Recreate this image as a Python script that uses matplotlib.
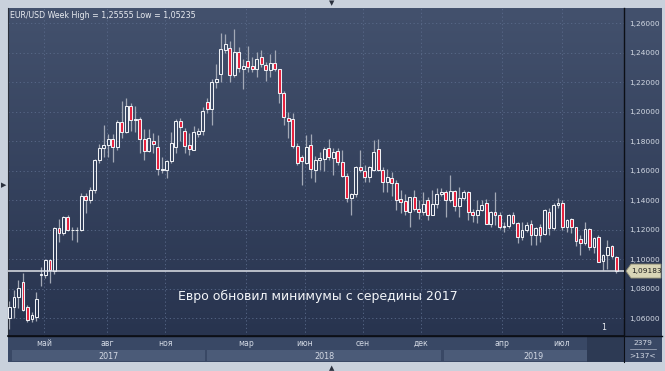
import numpy as np
import matplotlib
matplotlib.use("Agg")
import matplotlib.pyplot as plt
from matplotlib.colors import LinearSegmentedColormap
from matplotlib.patches import Polygon, Rectangle

# weekly EUR/USD candles
opens = [1.0600, 1.0675, 1.0742, 1.0844, 1.0675, 1.0595, 1.0607, 1.0890, 1.0895, 1.0993,
         1.0920, 1.1210, 1.1176, 1.1285, 1.1197, 1.1200, 1.1195, 1.1427, 1.1400, 1.1468,
         1.1671, 1.1753, 1.1773, 1.1815, 1.1760, 1.1930, 1.1860, 1.2035, 1.1944, 1.1951,
         1.1813, 1.1730, 1.1800, 1.1760, 1.1603, 1.1603, 1.1664, 1.1759, 1.1936, 1.1868,
         1.1773, 1.1739, 1.1847, 1.1868, 1.2064, 1.2017, 1.2200, 1.2254, 1.2417, 1.2431,
         1.2247, 1.2403, 1.2288, 1.2342, 1.2310, 1.2288, 1.2370, 1.2315, 1.2281, 1.2329,
         1.2288, 1.2125, 1.1956, 1.1949, 1.1766, 1.1692, 1.1651, 1.1773, 1.1603, 1.1671,
         1.1678, 1.1753, 1.1685, 1.1732, 1.1658, 1.1563, 1.1414, 1.1441, 1.1624, 1.1597,
         1.1556, 1.1603, 1.1746, 1.1603, 1.1522, 1.1549, 1.1515, 1.1407, 1.1393, 1.1318,
         1.1420, 1.1339, 1.1318, 1.1400, 1.1298, 1.1373, 1.1441, 1.1454, 1.1400, 1.1461,
         1.1359, 1.1414, 1.1454, 1.1318, 1.1298, 1.1332, 1.1380, 1.1237, 1.1319, 1.1298,
         1.1217, 1.1224, 1.1298, 1.1244, 1.1149, 1.1197, 1.1237, 1.1163, 1.1217, 1.1170,
         1.1318, 1.1210, 1.1366, 1.1380, 1.1217, 1.1271, 1.1217, 1.1136, 1.1108, 1.1203,
         1.1081, 1.1149, 1.0986, 1.1027, 1.1088, 1.1013]
highs = [1.0714, 1.0790, 1.0858, 1.0905, 1.0690, 1.0640, 1.0776, 1.0946, 1.1000, 1.1000,
         1.1215, 1.1271, 1.1295, 1.1296, 1.1220, 1.1217, 1.1445, 1.1446, 1.1490, 1.1680,
         1.1777, 1.1908, 1.1845, 1.1850, 1.1940, 1.2073, 1.2092, 1.2055, 1.2035, 1.1960,
         1.1880, 1.1881, 1.1854, 1.1841, 1.1692, 1.1671, 1.1861, 1.1949, 1.1956, 1.1888,
         1.1854, 1.1902, 1.1888, 1.2031, 1.2092, 1.2220, 1.2322, 1.2532, 1.2525, 1.2478,
         1.2559, 1.2437, 1.2356, 1.2444, 1.2370, 1.2403, 1.2417, 1.2336, 1.2390, 1.2417,
         1.2290, 1.2139, 1.1997, 1.1990, 1.1786, 1.1705, 1.1841, 1.1847, 1.1698, 1.1725,
         1.1759, 1.1814, 1.1753, 1.1753, 1.1739, 1.1583, 1.1448, 1.1631, 1.1739, 1.1637,
         1.1631, 1.1807, 1.1814, 1.1624, 1.1610, 1.1590, 1.1536, 1.1468, 1.1441, 1.1420,
         1.1468, 1.1400, 1.1454, 1.1420, 1.1468, 1.1481, 1.1481, 1.1468, 1.1570, 1.1468,
         1.1488, 1.1468, 1.1461, 1.1339, 1.1400, 1.1400, 1.1407, 1.1325, 1.1454, 1.1318,
         1.1251, 1.1305, 1.1318, 1.1251, 1.1251, 1.1251, 1.1264, 1.1217, 1.1237, 1.1339,
         1.1346, 1.1380, 1.1414, 1.1400, 1.1271, 1.1278, 1.1217, 1.1163, 1.1251, 1.1210,
         1.1149, 1.1163, 1.1034, 1.1129, 1.1095, 1.1020]
lows = [1.0524, 1.0600, 1.0670, 1.0650, 1.0575, 1.0570, 1.0580, 1.0817, 1.0870, 1.0838,
        1.0900, 1.1115, 1.1160, 1.1190, 1.1129, 1.1115, 1.1190, 1.1312, 1.1380, 1.1450,
        1.1650, 1.1692, 1.1690, 1.1658, 1.1740, 1.1820, 1.1855, 1.1868, 1.1861, 1.1719,
        1.1669, 1.1725, 1.1719, 1.1570, 1.1583, 1.1549, 1.1651, 1.1719, 1.1800, 1.1719,
        1.1705, 1.1739, 1.1827, 1.1841, 1.1990, 1.1908, 1.2159, 1.2200, 1.2397, 1.2200,
        1.2234, 1.2270, 1.2153, 1.2268, 1.2268, 1.2234, 1.2300, 1.2207, 1.2234, 1.2275,
        1.2058, 1.1908, 1.1820, 1.1753, 1.1637, 1.1502, 1.1644, 1.1549, 1.1522, 1.1603,
        1.1597, 1.1671, 1.1569, 1.1637, 1.1556, 1.1386, 1.1298, 1.1420, 1.1590, 1.1522,
        1.1522, 1.1595, 1.1595, 1.1454, 1.1454, 1.1427, 1.1332, 1.1312, 1.1298, 1.1217,
        1.1325, 1.1271, 1.1298, 1.1264, 1.1298, 1.1346, 1.1430, 1.1285, 1.1386, 1.1325,
        1.1284, 1.1400, 1.1264, 1.1251, 1.1244, 1.1325, 1.1237, 1.1220, 1.1230, 1.1203,
        1.1183, 1.1210, 1.1237, 1.1108, 1.1129, 1.1183, 1.1095, 1.1095, 1.1115, 1.1163,
        1.1163, 1.1197, 1.1346, 1.1197, 1.1183, 1.1176, 1.1088, 1.1027, 1.1095, 1.1061,
        1.1041, 1.0980, 1.0925, 1.0932, 1.1007, 1.0905]
closes = [1.0675, 1.0742, 1.0803, 1.0654, 1.0587, 1.0620, 1.0729, 1.0896, 1.0993, 1.0925,
          1.1210, 1.1176, 1.1285, 1.1197, 1.1200, 1.1195, 1.1427, 1.1400, 1.1468, 1.1671,
          1.1753, 1.1773, 1.1815, 1.1760, 1.1929, 1.1860, 1.2035, 1.1944, 1.1951, 1.1813,
          1.1730, 1.1821, 1.1780, 1.1610, 1.1608, 1.1664, 1.1786, 1.1936, 1.1895, 1.1766,
          1.1746, 1.1861, 1.1868, 1.2003, 1.2017, 1.2200, 1.2220, 1.2424, 1.2458, 1.2247,
          1.2403, 1.2295, 1.2308, 1.2302, 1.2288, 1.2356, 1.2322, 1.2281, 1.2329, 1.2288,
          1.2125, 1.1963, 1.1936, 1.1766, 1.1651, 1.1664, 1.1759, 1.1610, 1.1671, 1.1685,
          1.1746, 1.1692, 1.1725, 1.1658, 1.1563, 1.1414, 1.1441, 1.1624, 1.1603, 1.1556,
          1.1624, 1.1725, 1.1603, 1.1522, 1.1556, 1.1515, 1.1400, 1.1386, 1.1325, 1.1420,
          1.1339, 1.1318, 1.1373, 1.1298, 1.1373, 1.1441, 1.1454, 1.1400, 1.1461, 1.1359,
          1.1414, 1.1454, 1.1318, 1.1298, 1.1332, 1.1366, 1.1237, 1.1319, 1.1298, 1.1217,
          1.1224, 1.1298, 1.1244, 1.1149, 1.1197, 1.1230, 1.1163, 1.1210, 1.1163, 1.1332,
          1.1210, 1.1366, 1.1380, 1.1217, 1.1264, 1.1217, 1.1122, 1.1108, 1.1203, 1.1081,
          1.1142, 1.0980, 1.1027, 1.1081, 1.1020, 1.0918]

last_price = 1.09183
title = "EUR/USD Week High = 1,25555 Low = 1,05235"
note = "Евро обновил минимумы с середины 2017"

price_ticks = [1.06, 1.08, 1.10, 1.12, 1.14, 1.16, 1.18, 1.20, 1.22, 1.24, 1.26]
month_pos = [7.7, 21.7, 34.6, 52.6, 65.7, 78.6, 91.5, 109.5, 122.9]
month_labels = ["май", "авг", "ноя", "мар", "июн", "сен", "дек", "апр", "июл"]
year_labels = ["2017", "2018", "2019"]
year_spans = [(0.5, 43.5), (43.9, 96.0), (96.6, 136.7)]

W, H = 665, 371
XLIM = (-0.33, 136.68)
YLIM = (1.0478, 1.2702)
TXT = "#d3d9e4"


def px(x0, y0, x1, y1):
    return [x0 / W, 1 - y1 / H, (x1 - x0) / W, (y1 - y0) / H]


fig = plt.figure(figsize=(W / 100, H / 100), dpi=100, facecolor="#c9d1dc")

# gradient background behind plot and price scale
bg = fig.add_axes(px(8, 8, 662, 336))
grad = LinearSegmentedColormap.from_list("bg", ["#28344f", "#43516d"])
bg.imshow(np.linspace(0, 1, 200).reshape(-1, 1)[::-1], aspect="auto", cmap=grad,
          extent=[0, 1, 0, 1], interpolation="bilinear")
bg.set_axis_off()

ax = fig.add_axes(px(8, 8, 624, 336))
ax.set_facecolor("none")
ax.set_xlim(*XLIM)
ax.set_ylim(*YLIM)

o = np.array(opens)
h = np.array(highs)
l = np.array(lows)
c = np.array(closes)
x = np.arange(len(o))
top = np.maximum(o, c)
bot = np.minimum(o, c)
up = c >= o

for p in price_ticks:
    ax.axhline(p, color="#5a6a8a", lw=0.6, ls=(0, (1.5, 3)), zorder=1)
for m in month_pos:
    ax.axvline(m, color="#5a6a8a", lw=0.6, ls=(0, (1.5, 3)), zorder=1)

ax.vlines(x, top, h, color="#a3a9b6", lw=0.9, zorder=2)
ax.vlines(x, l, bot, color="#a3a9b6", lw=0.9, zorder=2)
ax.bar(x[up], np.maximum(top - bot, 0.0003)[up], bottom=bot[up], width=0.64,
       color="none", edgecolor="#eef0f4", linewidth=0.75, zorder=3)
ax.bar(x[~up], np.maximum(top - bot, 0.0003)[~up], bottom=bot[~up], width=0.64,
       color="#e61f3c", edgecolor="#eef0f4", linewidth=0.75, zorder=3)

ax.axhline(last_price, color="#dfe3ea", lw=1.1, zorder=4)

ax.yaxis.tick_right()
ax.set_yticks(price_ticks)
ax.set_yticklabels([f"{p:.5f}".replace(".", ",") for p in price_ticks],
                   color=TXT, fontsize=5.3)
ax.tick_params(axis="y", length=0, pad=4)
ax.set_xticks([])
ax.spines["top"].set_visible(False)
ax.spines["left"].set_color("#2a2f3a")
ax.spines["left"].set_linewidth(0.8)
ax.spines["right"].set_color("#0c0f16")
ax.spines["right"].set_linewidth(1.0)
ax.spines["bottom"].set_color("#0c0f16")
ax.spines["bottom"].set_linewidth(1.2)

ax.text(0.004, 0.992, title, transform=ax.transAxes, va="top", ha="left",
        color="#e8ebf0", fontsize=5.7)
ax.text(0.503, 0.122, note, transform=ax.transAxes, va="center", ha="center",
        color="#f4f6f9", fontsize=9.0)
ax.text(0.9675, 0.012, "1", transform=ax.transAxes, va="bottom", ha="center",
        color="#e8ebf0", fontsize=5.8)

# last price tag on the scale
fig.canvas.draw()
_, yp = ax.transData.transform((0, last_price))
tag = Polygon([(626, yp), (631, yp - 7), (661, yp - 7), (661, yp + 7), (631, yp + 7)],
              closed=True, transform=None, facecolor="#d8d5b6", edgecolor="#8e8c74",
              lw=0.6, zorder=10)
fig.patches.append(tag)
fig.text(646 / W, yp / H, f"{last_price:.5f}".replace(".", ","), ha="center",
         va="center", color="#1c1c1c", fontsize=5.3, zorder=11)

# bottom time scale
band = fig.add_axes(px(8, 336, 624, 362))
band.set_xlim(*XLIM)
band.set_ylim(0, 1)
band.set_facecolor("#394865")
for (a, b), lab in zip(year_spans, year_labels):
    band.add_patch(Rectangle((a, 0.02), b - a, 0.44, color="#4b5b78", lw=0))
    band.text((a + b) / 2, 0.23, lab, ha="center", va="center", color=TXT, fontsize=5.8)
band.add_patch(Rectangle((128.4, 0), XLIM[1] - 128.4, 1, color="#2d3a54", lw=0))
for m, lab in zip(month_pos, month_labels):
    band.text(m, 0.73, lab, ha="center", va="center", color=TXT, fontsize=5.6)
band.set_xticks([])
band.set_yticks([])
for s in band.spines.values():
    s.set_visible(False)

corner = fig.add_axes(px(624, 336, 662, 362))
corner.set_facecolor("#394865")
corner.set_xlim(0, 1)
corner.set_ylim(0, 1)
corner.text(0.5, 0.72, "2379", ha="center", va="center", color=TXT, fontsize=5.4)
corner.text(0.5, 0.25, ">137<", ha="center", va="center", color=TXT, fontsize=5.4)
corner.plot([0.15, 0.85], [0.5, 0.5], color="#aeb6c6", lw=0.5)
corner.set_xticks([])
corner.set_yticks([])
for s in corner.spines.values():
    s.set_visible(False)
corner.spines["left"].set_visible(True)
corner.spines["left"].set_color("#0c0f16")

fig.add_artist(plt.Line2D([8 / W, 662 / W], [1 - 336 / H] * 2, color="#0c0f16", lw=1.0))

# little scroll markers on the frame
fig.text(332 / W, 1 - 3 / H, "▼", ha="center", va="center", color="#2a303d", fontsize=5)
fig.text(332 / W, 1 - 368 / H, "▲", ha="center", va="center", color="#2a303d", fontsize=5)
fig.text(3.5 / W, 1 - 185 / H, "▶", ha="center", va="center", color="#2a303d", fontsize=5)

fig.savefig("out.png", dpi=100, facecolor=fig.get_facecolor())
